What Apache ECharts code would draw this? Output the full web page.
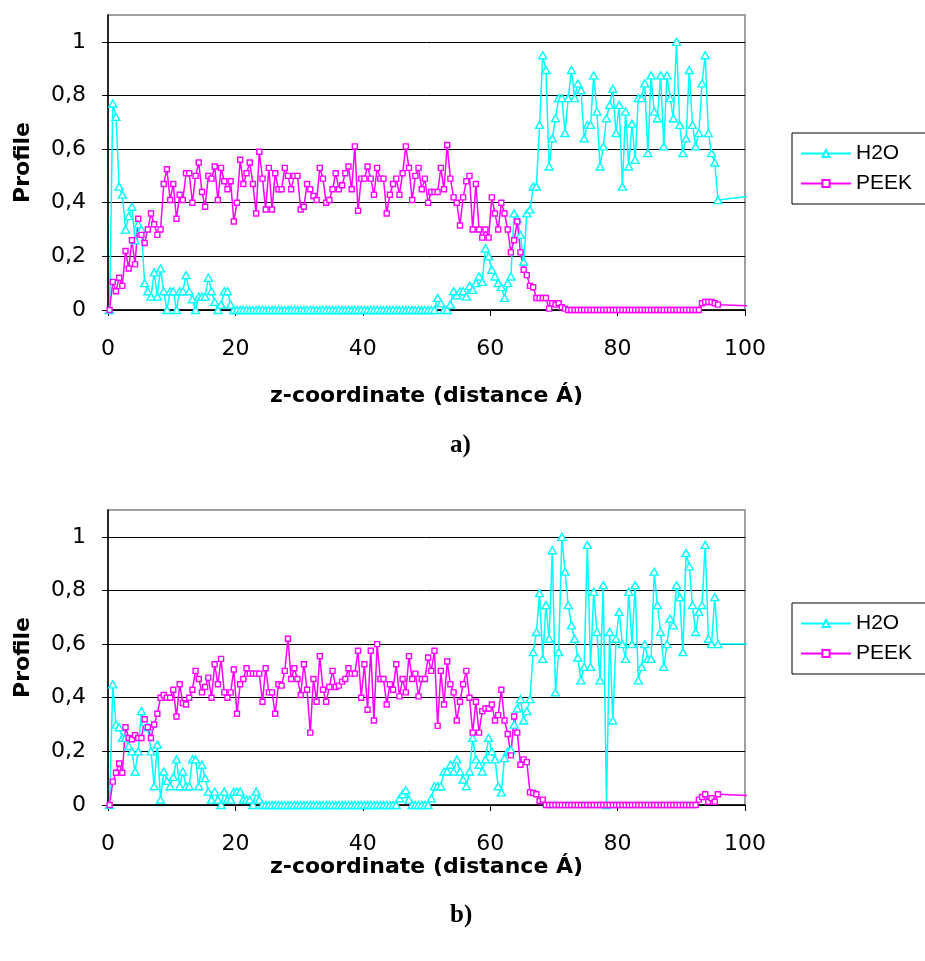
<!DOCTYPE html>
<html>
<head>
<meta charset="utf-8">
<script src="https://cdn.jsdelivr.net/npm/echarts/dist/echarts.min.js"></script>
<style>
html,body{margin:0;padding:0;background:#fff;}
#chart{width:925px;height:961px;}
</style>
</head>
<body>
<div id="chart"></div>
<script>
// z-coordinate of every bin (Å)
var zPos=[
0.25,0.75,1.25,1.75,2.25,2.75,3.25,3.75,4.25,4.75,
5.25,5.75,6.25,6.75,7.25,7.75,8.25,8.75,9.25,9.75,
10.25,10.75,11.25,11.75,12.25,12.75,13.25,13.75,14.25,14.75,
15.25,15.75,16.25,16.75,17.25,17.75,18.25,18.75,19.25,19.75,
20.25,20.75,21.25,21.75,22.25,22.75,23.25,23.75,24.25,24.75,
25.25,25.75,26.25,26.75,27.25,27.75,28.25,28.75,29.25,29.75,
30.25,30.75,31.25,31.75,32.25,32.75,33.25,33.75,34.25,34.75,
35.25,35.75,36.25,36.75,37.25,37.75,38.25,38.75,39.25,39.75,
40.25,40.75,41.25,41.75,42.25,42.75,43.25,43.75,44.25,44.75,
45.25,45.75,46.25,46.75,47.25,47.75,48.25,48.75,49.25,49.75,
50.25,50.75,51.25,51.75,52.25,52.75,53.25,53.75,54.25,54.75,
55.25,55.75,56.25,56.75,57.25,57.75,58.25,58.75,59.25,59.75,
60.25,60.75,61.25,61.75,62.25,62.75,63.25,63.75,64.25,64.75,
65.25,65.75,66.25,66.75,67.25,67.75,68.25,68.75,69.25,69.75,
70.25,70.75,71.25,71.75,72.25,72.75,73.25,73.75,74.25,74.75,
75.25,75.75,76.25,76.75,77.25,77.75,78.25,78.75,79.25,79.75,
80.25,80.75,81.25,81.75,82.25,82.75,83.25,83.75,84.25,84.75,
85.25,85.75,86.25,86.75,87.25,87.75,88.25,88.75,89.25,89.75,
90.25,90.75,91.25,91.75,92.25,92.75,93.25,93.75,94.25,94.75,
95.25,95.75];

// a) profiles
var h2oA=[
0,0.77,0.72,0.46,0.43,0.30,0.35,0.385,0.26,0.32,
0.30,0.10,0.07,0.05,0.14,0.05,0.155,0.07,0,0.07,
0.07,0,0.07,0.07,0.13,0.07,0.04,0,0.05,0.05,
0.05,0.12,0.07,0.03,0,0.02,0.07,0.07,0.02,0,
0,0,0,0,0,0,0,0,0,0,
0,0,0,0,0,0,0,0,0,0,
0,0,0,0,0,0,0,0,0,0,
0,0,0,0,0,0,0,0,0,0,
0,0,0,0,0,0,0,0,0,0,
0,0,0,0,0,0,0,0,0,0,
0,0,0,0.045,0.025,0,0,0.02,0.07,0.055,
0.07,0.07,0.05,0.09,0.075,0.10,0.125,0.105,0.23,0.20,
0.15,0.125,0.10,0.085,0.045,0.10,0.125,0.36,0.34,0.28,
0.18,0.36,0.375,0.46,0.46,0.69,0.95,0.895,0.535,0.64,
0.715,0.79,0.79,0.66,0.79,0.895,0.79,0.845,0.82,0.64,
0.69,0.69,0.875,0.74,0.535,0.61,0.715,0.765,0.825,0.66,
0.765,0.46,0.74,0.535,0.695,0.56,0.79,0.79,0.845,0.585,
0.875,0.74,0.715,0.875,0.61,0.875,0.79,0.715,1.0,0.69,
0.585,0.64,0.895,0.69,0.61,0.66,0.845,0.95,0.66,0.585,
0.55,0.41];
var peekA=[
0,0.105,0.07,0.12,0.09,0.22,0.155,0.26,0.17,0.34,
0.28,0.25,0.30,0.36,0.32,0.28,0.30,0.47,0.525,0.41,
0.47,0.34,0.43,0.41,0.51,0.51,0.40,0.50,0.55,0.44,
0.385,0.50,0.49,0.535,0.41,0.53,0.48,0.45,0.48,0.33,
0.40,0.56,0.47,0.51,0.55,0.47,0.36,0.59,0.49,0.375,
0.53,0.375,0.51,0.45,0.45,0.53,0.50,0.45,0.50,0.50,
0.375,0.385,0.47,0.45,0.425,0.41,0.53,0.49,0.40,0.41,
0.45,0.51,0.45,0.465,0.51,0.535,0.45,0.61,0.37,0.49,
0.49,0.535,0.49,0.43,0.53,0.49,0.49,0.36,0.43,0.47,
0.49,0.43,0.51,0.61,0.53,0.41,0.50,0.53,0.45,0.49,
0.40,0.44,0.44,0.44,0.53,0.45,0.615,0.49,0.42,0.40,
0.315,0.42,0.48,0.50,0.30,0.47,0.30,0.27,0.30,0.27,
0.42,0.36,0.30,0.40,0.36,0.30,0.215,0.26,0.33,0.215,
0.15,0.13,0.09,0.085,0.045,0.045,0.045,0.045,0.005,0.025,
0.02,0.025,0.01,0.005,0,0,0,0,0,0,
0,0,0,0,0,0,0,0,0,0,
0,0,0,0,0,0,0,0,0,0,
0,0,0,0,0,0,0,0,0,0,
0,0,0,0,0,0,0.025,0.03,0.03,0.03,
0.025,0.02];

// b) profiles
var h2oB=[
0,0.45,0.30,0.29,0.25,0.25,0.22,0.20,0.125,0.20,
0.35,0.31,0.29,0.20,0.07,0.225,0.02,0.125,0.09,0.07,
0.105,0.17,0.07,0.125,0.07,0.07,0.17,0.17,0.07,0.15,
0.10,0.05,0.02,0.05,0.02,0,0.05,0.02,0.02,0.05,
0.05,0.05,0.02,0.02,0.02,0,0.05,0.02,0,0,
0,0,0,0,0,0,0,0,0,0,
0,0,0,0,0,0,0,0,0,0,
0,0,0,0,0,0,0,0,0,0,
0,0,0,0,0,0,0,0,0,0,
0,0.025,0.04,0.055,0.02,0,0,0,0,0,
0,0.025,0.07,0.07,0.07,0.125,0.125,0.15,0.125,0.17,
0.125,0.095,0.07,0.125,0.25,0.17,0.15,0.125,0.17,0.25,
0.20,0.17,0.07,0.047,0.175,0.20,0.205,0.30,0.36,0.395,
0.315,0.35,0.395,0.57,0.645,0.79,0.545,0.745,0.62,0.95,
0.42,0.57,1.0,0.87,0.745,0.67,0.62,0.55,0.465,0.515,
0.97,0.515,0.795,0.645,0.465,0.82,0,0.645,0.315,0.62,
0.72,0.60,0.545,0.795,0.60,0.82,0.465,0.515,0.60,0.545,
0.545,0.87,0.745,0.645,0.515,0.60,0.695,0.67,0.82,0.775,
0.57,0.94,0.89,0.745,0.645,0.72,0.745,0.97,0.62,0.60,
0.775,0.60];
var peekB=[
0,0.087,0.12,0.155,0.12,0.29,0.25,0.245,0.26,0.25,
0.25,0.32,0.29,0.25,0.30,0.34,0.40,0.41,0.40,0.40,
0.43,0.33,0.45,0.38,0.375,0.40,0.43,0.50,0.47,0.42,
0.44,0.475,0.40,0.525,0.45,0.545,0.42,0.40,0.42,0.505,
0.34,0.45,0.47,0.51,0.49,0.49,0.49,0.49,0.385,0.51,
0.42,0.42,0.34,0.45,0.445,0.50,0.62,0.47,0.51,0.47,
0.41,0.525,0.43,0.27,0.47,0.385,0.555,0.43,0.385,0.44,
0.50,0.44,0.445,0.46,0.47,0.51,0.49,0.49,0.575,0.40,
0.525,0.355,0.575,0.315,0.60,0.47,0.47,0.375,0.45,0.43,
0.525,0.405,0.47,0.42,0.555,0.47,0.49,0.405,0.47,0.47,
0.55,0.50,0.575,0.295,0.50,0.375,0.535,0.45,0.42,0.315,
0.385,0.45,0.50,0.40,0.27,0.385,0.27,0.35,0.36,0.36,
0.375,0.315,0.335,0.43,0.315,0.265,0.185,0.33,0.27,0.15,
0.17,0.16,0.047,0.045,0.04,0.015,0.02,0,0,0,
0,0,0,0,0,0,0,0,0,0,
0,0,0,0,0,0,0,0,0,0,
0,0,0,0,0,0,0,0,0,0,
0,0,0,0,0,0,0,0,0,0,
0,0,0,0,0,0.02,0.03,0.04,0.012,0.025,
0.012,0.04];

// line continues past the last bin without a marker
var tailZ=100.8;
var tailA=[0.425,0.015]; // H2O, PEEK
var tailB=[0.60,0.035];

var seriesNames=['H2O','PEEK'];
var xTitle='z-coordinate (distance Á)';
var yTitle='Profile';
var panelLabels=['a)','b)'];

var CYAN='#00ffff', MAGENTA='#ff00ff';
var FONT='DejaVu Sans';
var LEGEND_FONT='Liberation Sans';

function toPairs(ys,tail){
	var out=[];
	for(var i=0;i<ys.length;i++){
		out.push([zPos[i],ys[i]]);
	}
	out.push({value:[tailZ,tail],symbol:'none'});
	return out;
}

function lineSeries(name,data,gi,color,symbol,size){
	return {
		name:name,
		type:'line',
		xAxisIndex:gi,
		yAxisIndex:gi,
		data:data,
		symbol:symbol,
		symbolSize:size,
		showAllSymbol:true,
		clip:false,
		animation:false,
		lineStyle:{color:color,width:1.5},
		itemStyle:{color:'#fff',borderColor:color,borderWidth:1.4},
		emphasis:{disabled:true}
	};
}

function xAxisFor(gi,gap){
	return {
		gridIndex:gi,type:'value',min:0,max:100,interval:20,
		axisLine:{show:true,onZero:false,lineStyle:{color:'#000',width:1.5}},
		axisTick:{show:true,length:6,lineStyle:{color:'#000'}},
		axisLabel:{margin:28,fontSize:22,color:'#000',fontFamily:FONT},
		splitLine:{show:false},
		name:xTitle,nameLocation:'middle',nameGap:gap,
		nameTextStyle:{fontSize:22,fontWeight:'bold',color:'#000',fontFamily:FONT}
	};
}

function yAxisFor(gi){
	return {
		gridIndex:gi,type:'value',min:0,max:1.1,interval:0.2,
		axisLine:{show:true,lineStyle:{color:'#000',width:1.5}},
		axisTick:{show:true,length:6,lineStyle:{color:'#000'}},
		axisLabel:{
			margin:22,fontSize:22,color:'#000',fontFamily:FONT,showMaxLabel:false,
			formatter:function(v){
				if(v>1.05) return '';
				return String(+v.toFixed(1)).replace('.',',');
			}
		},
		splitLine:{show:true,showMaxLine:false,lineStyle:{color:'#000',width:1}},
		name:yTitle,nameLocation:'middle',nameGap:74,
		nameTextStyle:{fontSize:22,fontWeight:'bold',color:'#000',fontFamily:FONT}
	};
}

function legendFor(top){
	return {
		orient:'vertical',left:792,top:top,
		data:seriesNames,
		itemWidth:50,itemHeight:9,itemGap:9,
		borderColor:'#000',borderWidth:1,
		padding:[10,40,10,8],
		selectedMode:false,
		textStyle:{fontSize:21,color:'#000',fontFamily:LEGEND_FONT}
	};
}

var chart=echarts.init(document.getElementById('chart'));
var option={
	backgroundColor:'#fff',
	animation:false,
	grid:[
		{left:108,top:15,width:637,height:295,show:true,borderColor:'#a0a0a0',borderWidth:2},
		{left:108,top:510,width:637,height:295,show:true,borderColor:'#a0a0a0',borderWidth:2}
	],
	xAxis:[xAxisFor(0,75),xAxisFor(1,49)],
	yAxis:[yAxisFor(0),yAxisFor(1)],
	legend:[legendFor(133),legendFor(603)],
	graphic:[
		{type:'text',left:450,top:433,style:{text:panelLabels[0],font:'bold 25px "Liberation Serif"',fill:'#000'}},
		{type:'text',left:450,top:903,style:{text:panelLabels[1],font:'bold 25px "Liberation Serif"',fill:'#000'}}
	],
	series:[
		lineSeries(seriesNames[0],toPairs(h2oA,tailA[0]),0,CYAN,'triangle',[8,7]),
		lineSeries(seriesNames[1],toPairs(peekA,tailA[1]),0,MAGENTA,'rect',5),
		lineSeries(seriesNames[0],toPairs(h2oB,tailB[0]),1,CYAN,'triangle',[8,7]),
		lineSeries(seriesNames[1],toPairs(peekB,tailB[1]),1,MAGENTA,'rect',5)
	]
};
chart.setOption(option);
</script>
</body>
</html>
